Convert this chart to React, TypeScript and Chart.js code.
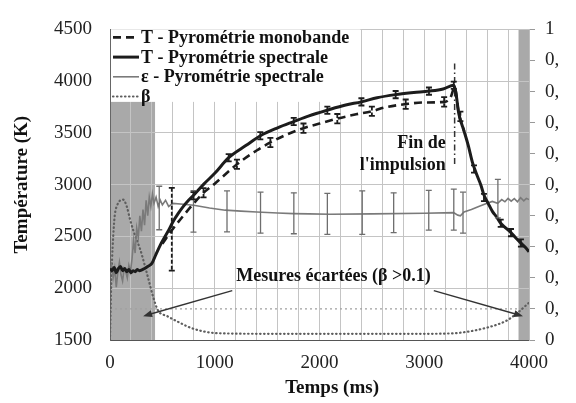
import { useEffect, useRef } from 'react';
import { Chart, registerables } from 'chart.js';

Chart.register(...registerables);

// ---------- Data ----------
// T - Pyrométrie spectrale (K)
const specT = [0, 20, 40, 60, 80, 100, 120, 140, 160, 180, 200, 220, 240, 260, 280, 300, 330, 360, 400, 440, 480, 520, 560, 600, 650, 700, 750, 800, 900, 1000, 1133, 1300, 1435, 1600, 1754, 1900, 2075, 2250, 2400, 2550, 2727, 2900, 3045, 3180, 3282, 3300, 3330, 3380, 3420, 3460, 3500, 3541, 3570, 3610, 3652, 3690, 3730, 3780, 3828, 3870, 3923, 3960, 4000];
const specTemp = [2190, 2170, 2200, 2150, 2190, 2210, 2170, 2190, 2160, 2180, 2150, 2170, 2160, 2180, 2170, 2175, 2190, 2210, 2240, 2330, 2417, 2490, 2560, 2640, 2720, 2790, 2850, 2900, 3010, 3110, 3261, 3380, 3473, 3550, 3610, 3665, 3720, 3770, 3800, 3840, 3870, 3890, 3904, 3925, 3960, 3900, 3686, 3518, 3380, 3215, 3100, 2995, 2900, 2820, 2740, 2690, 2628, 2580, 2537, 2490, 2436, 2400, 2353];

// T - Pyrométrie monobande (K)
const monoT = [500, 590, 700, 800, 893, 1000, 1212, 1400, 1531, 1700, 1847, 2000, 2170, 2350, 2500, 2632, 2823, 2983, 3190, 3250, 3290, 3330, 3380];
const monoTemp = [2430, 2560, 2700, 2820, 2922, 3010, 3197, 3330, 3408, 3490, 3546, 3590, 3638, 3680, 3710, 3748, 3778, 3794, 3800, 3840, 3940, 3686, 3518];

// ε - Pyrométrie spectrale
const epsT = [0, 15, 30, 45, 60, 75, 90, 105, 120, 135, 150, 165, 180, 195, 210, 225, 240, 255, 270, 285, 300, 315, 330, 345, 360, 375, 390, 405, 420, 440, 460, 480, 500, 530, 560, 600, 700, 800, 950, 1100, 1250, 1400, 1600, 1750, 1900, 2100, 2500, 3000, 3280, 3320, 3345, 3380, 3450, 3520, 3600, 3650, 3700, 3740, 3770, 3800, 3830, 3860, 3890, 3920, 3950, 3975, 4000];
const epsV = [0.22, 0.24, 0.2, 0.23, 0.17, 0.22, 0.25, 0.21, 0.19, 0.23, 0.22, 0.2, 0.24, 0.22, 0.26, 0.32, 0.28, 0.36, 0.33, 0.4, 0.35, 0.42, 0.37, 0.45, 0.4, 0.46, 0.43, 0.47, 0.44, 0.46, 0.43, 0.45, 0.435, 0.45, 0.43, 0.44, 0.437, 0.434, 0.425, 0.418, 0.415, 0.412, 0.409, 0.407, 0.406, 0.405, 0.406, 0.408, 0.41, 0.402, 0.4, 0.412, 0.42, 0.43, 0.44, 0.446, 0.44, 0.452, 0.445, 0.456, 0.447, 0.455, 0.445, 0.458, 0.448, 0.456, 0.452];

// β
const betaT = [0, 5, 10, 20, 30, 45, 70, 100, 125, 160, 190, 225, 258, 290, 316, 340, 364, 411, 459, 545, 670, 765, 861, 1024, 1500, 2000, 2500, 3000, 3300, 3400, 3500, 3600, 3700, 3800, 3850, 3900, 3950, 4000];
const betaV = [0, 0.08, 0.16, 0.26, 0.33, 0.4, 0.435, 0.45, 0.452, 0.43, 0.39, 0.35, 0.32, 0.29, 0.26, 0.23, 0.2, 0.14, 0.095, 0.077, 0.055, 0.04, 0.03, 0.022, 0.02, 0.02, 0.02, 0.02, 0.022, 0.026, 0.032, 0.04, 0.05, 0.065, 0.077, 0.09, 0.105, 0.12];

// β = 0.1 threshold
const thresholdT = [0, 4000];
const thresholdBeta = [0.1, 0.1];

// End of pulse marker
const pulseT = [3290, 3290];
const pulseTemp = [4170, 3180];

// Error bars
const specErrT = [797, 1133, 1435, 1754, 2075, 2400, 2727, 3045, 3282, 3475, 3570, 3730, 3828, 3923];
const specErrCenter = [2894, 3261, 3473, 3610, 3720, 3800, 3870, 3904, 3960, 3151, 2876, 2628, 2537, 2436];
const specErrHalf = [35, 35, 35, 35, 35, 35, 35, 35, 35, 35, 35, 35, 35, 35];

const monoErrT = [590, 893, 1212, 1531, 1847, 2170, 2500, 2823, 3190, 3345];
const monoErrCenter = [2570, 2922, 3197, 3408, 3546, 3638, 3710, 3778, 3800, 3660];
const monoErrHalf = [400, 45, 45, 45, 45, 45, 45, 45, 45, 45];

const epsErrT = [470, 797, 1117, 1437, 1755, 2075, 2408, 2708, 3043, 3282, 3370, 3703];
const epsErrCenter = [0.425, 0.414, 0.414, 0.41, 0.408, 0.406, 0.41, 0.41, 0.418, 0.42, 0.41, 0.455];
const epsErrHalf = [0.07, 0.067, 0.066, 0.066, 0.066, 0.066, 0.07, 0.064, 0.064, 0.066, 0.066, 0.062];

// Excluded zones (ms)
const leftBand = [0, 430];
const rightBand = [3900, 4000];

// Axis ticks
const rightTickLabels = ['0', '0,', '0,', '0,', '0,', '0,', '0,', '0,', '0,', '0,', '1'];

// Texts
const legendLabels = ['T - Pyrométrie monobande', 'T - Pyrométrie spectrale', 'ε - Pyrométrie spectrale', 'β'];
const legendDatasetIndex = [1, 0, 2, 3];
const pulseText = ['Fin de', "l'impulsion"];
const excludedText = 'Mesures écartées (β >0.1)';

const FONT = '"Liberation Serif", serif';

export default function App() {
  const canvasRef = useRef<HTMLCanvasElement | null>(null);

  useEffect(() => {
    document.body.style.margin = '0';
    const canvas = canvasRef.current;
    if (!canvas) return;
    const pts = (xs: number[], ys: number[]) => xs.map((x, i) => ({ x, y: ys[i] }));

    const bandsPlugin = {
      id: 'bands',
      beforeDraw(chart: any) {
        const { ctx, chartArea, scales } = chart;
        const x = scales.x;
        ctx.save();
        ctx.fillStyle = '#a9a9a9';
        for (const [a, b] of [leftBand, rightBand]) {
          const x1 = x.getPixelForValue(a);
          const x2 = x.getPixelForValue(b);
          ctx.fillRect(x1, chartArea.top, x2 - x1, chartArea.bottom - chartArea.top);
        }
        ctx.restore();
      },
    };

    const legendPlugin = {
      id: 'boxLegend',
      beforeDatasetsDraw(chart: any) {
        const { ctx, chartArea, scales } = chart;
        const x0 = chartArea.left + 1;
        const x1 = scales.x.getPixelForValue(2400) - 1;
        const y0 = chartArea.top;
        const y1 = scales.y.getPixelForValue(3800);
        ctx.save();
        ctx.fillStyle = '#ffffff';
        ctx.fillRect(x0, y0, x1 - x0, y1 - y0);
        legendLabels.forEach((label, i) => {
          const ds: any = chart.data.datasets[legendDatasetIndex[i]];
          const ry = y0 + 8 + i * 19.7;
          ctx.save();
          ctx.strokeStyle = ds.borderColor;
          ctx.lineWidth = ds.borderWidth;
          ctx.lineCap = ds.borderCapStyle || 'butt';
          ctx.setLineDash(ds.borderDash || []);
          ctx.beginPath();
          ctx.moveTo(x0 + 2, ry);
          ctx.lineTo(x0 + 28, ry);
          ctx.stroke();
          ctx.restore();
          ctx.fillStyle = '#111';
          ctx.font = `bold 18px ${FONT}`;
          ctx.textAlign = 'left';
          ctx.textBaseline = 'middle';
          ctx.fillText(label, x0 + 30, ry + 1);
        });
        ctx.restore();
      },
    };

    const annotationPlugin = {
      id: 'annotations',
      afterDatasetsDraw(chart: any) {
        const { ctx, scales } = chart;
        const x = scales.x;
        const drawBars = (ts: number[], cs: number[], hs: number[], axis: any, color: string, width: number, dash: number[]) => {
          ctx.save();
          ctx.strokeStyle = color;
          ctx.lineWidth = width;
          ts.forEach((t, i) => {
            const px = x.getPixelForValue(t);
            const top = axis.getPixelForValue(cs[i] + hs[i]);
            const bot = axis.getPixelForValue(cs[i] - hs[i]);
            ctx.setLineDash(dash);
            ctx.beginPath();
            ctx.moveTo(px, top);
            ctx.lineTo(px, bot);
            ctx.stroke();
            ctx.setLineDash([]);
            ctx.beginPath();
            ctx.moveTo(px - 3, top);
            ctx.lineTo(px + 3, top);
            ctx.moveTo(px - 3, bot);
            ctx.lineTo(px + 3, bot);
            ctx.stroke();
          });
          ctx.restore();
        };
        drawBars(epsErrT, epsErrCenter, epsErrHalf, scales.y1, '#6e6e6e', 1.3, []);
        drawBars(monoErrT, monoErrCenter, monoErrHalf, scales.y, '#1c1c1c', 1.8, [4, 2]);
        drawBars(specErrT, specErrCenter, specErrHalf, scales.y, '#1c1c1c', 1.8, []);

        const arrow = (t1: number, v1: number, t2: number, v2: number) => {
          const sx = x.getPixelForValue(t1), sy = scales.y.getPixelForValue(v1);
          const ex = x.getPixelForValue(t2), ey = scales.y.getPixelForValue(v2);
          const ang = Math.atan2(ey - sy, ex - sx);
          ctx.save();
          ctx.strokeStyle = '#333';
          ctx.fillStyle = '#333';
          ctx.lineWidth = 1.4;
          ctx.beginPath();
          ctx.moveTo(sx, sy);
          ctx.lineTo(ex - 6 * Math.cos(ang), ey - 6 * Math.sin(ang));
          ctx.stroke();
          ctx.beginPath();
          ctx.moveTo(ex, ey);
          ctx.lineTo(ex - 9 * Math.cos(ang) + 3.5 * Math.sin(ang), ey - 9 * Math.sin(ang) - 3.5 * Math.cos(ang));
          ctx.lineTo(ex - 9 * Math.cos(ang) - 3.5 * Math.sin(ang), ey - 9 * Math.sin(ang) + 3.5 * Math.cos(ang));
          ctx.closePath();
          ctx.fill();
          ctx.restore();
        };
        arrow(1167, 1977, 316, 1730);
        arrow(3091, 1977, 3943, 1730);

        ctx.save();
        ctx.fillStyle = '#111';
        ctx.font = `bold 18px ${FONT}`;
        ctx.textBaseline = 'middle';
        ctx.textAlign = 'right';
        ctx.fillText(pulseText[0], x.getPixelForValue(3206), scales.y.getPixelForValue(3400));
        ctx.fillText(pulseText[1], x.getPixelForValue(3206), scales.y.getPixelForValue(3190));
        ctx.textAlign = 'center';
        ctx.fillText(excludedText, x.getPixelForValue(2134), scales.y.getPixelForValue(2115));
        ctx.restore();
      },
      afterDraw(chart: any) {
        const { ctx, chartArea, scales } = chart;
        ctx.save();
        ctx.fillStyle = '#111';
        ctx.font = `bold 19px ${FONT}`;
        ctx.textAlign = 'center';
        ctx.textBaseline = 'middle';
        ctx.fillText('Temps (ms)', scales.x.getPixelForValue(2120), chartArea.bottom + 48);
        ctx.restore();
      },
    };

    const tickFont = { family: FONT, size: 19 };

    const chart = new Chart(canvas, {
      type: 'line',
      data: {
        datasets: [
          {
            label: 'T - Pyrométrie spectrale',
            data: pts(specT, specTemp),
            yAxisID: 'y',
            borderColor: '#1c1c1c',
            borderWidth: 3,
            pointRadius: 0,
            cubicInterpolationMode: 'monotone',
          },
          {
            label: 'T - Pyrométrie monobande',
            data: pts(monoT, monoTemp),
            yAxisID: 'y',
            borderColor: '#1c1c1c',
            borderWidth: 2.6,
            borderDash: [8, 5],
            pointRadius: 0,
            cubicInterpolationMode: 'monotone',
          },
          {
            label: 'ε - Pyrométrie spectrale',
            data: pts(epsT, epsV),
            yAxisID: 'y1',
            borderColor: '#7a7a7a',
            borderWidth: 1.6,
            pointRadius: 0,
            tension: 0,
          },
          {
            label: 'β',
            data: pts(betaT, betaV),
            yAxisID: 'y1',
            borderColor: '#5e5e5e',
            borderWidth: 2.2,
            borderDash: [0.5, 3.5],
            borderCapStyle: 'round',
            pointRadius: 0,
            cubicInterpolationMode: 'monotone',
          },
          {
            label: 'β = 0.1',
            data: pts(thresholdT, thresholdBeta),
            yAxisID: 'y1',
            borderColor: '#a0a0a0',
            borderWidth: 1.2,
            borderDash: [2, 3],
            pointRadius: 0,
          },
          {
            label: 'Fin de l\'impulsion',
            data: pts(pulseT, pulseTemp),
            yAxisID: 'y',
            borderColor: '#333',
            borderWidth: 1.5,
            borderDash: [6, 3, 1.5, 3],
            pointRadius: 0,
          },
        ] as any,
      },
      options: {
        animation: false,
        responsive: true,
        maintainAspectRatio: false,
        layout: { padding: { top: 13, left: 0, right: 0, bottom: 0 } },
        plugins: { legend: { display: false }, tooltip: { enabled: false } },
        scales: {
          x: {
            type: 'linear',
            min: 0,
            max: 4000,
            afterFit: (s: any) => { s.height = 63; },
            ticks: {
              stepSize: 200,
              autoSkip: false,
              maxRotation: 0,
              padding: 12,
              color: '#222',
              font: tickFont,
              callback: (v: any) => (Number(v) % 1000 === 0 ? String(v) : ''),
            },
            grid: { color: '#c4c4c4', drawTicks: false, lineWidth: 1 },
            border: { color: '#555', width: 1 },
          },
          y: {
            type: 'linear',
            position: 'left',
            min: 1500,
            max: 4500,
            afterFit: (s: any) => { s.width = 110; },
            ticks: { stepSize: 500, padding: 18, color: '#222', font: tickFont, callback: (v: any) => String(v) },
            grid: { color: '#c4c4c4', drawTicks: false, lineWidth: 1 },
            border: { color: '#666', width: 1 },
            title: {
              display: true,
              text: 'Température (K)',
              color: '#111',
              font: { family: FONT, size: 19, weight: 'bold' },
              padding: { top: 11, bottom: 0 },
            },
          },
          y1: {
            type: 'linear',
            position: 'right',
            min: 0,
            max: 1,
            afterFit: (s: any) => { s.width = 47; },
            ticks: {
              stepSize: 0.1,
              padding: 10,
              color: '#222',
              font: tickFont,
              callback: (_v: any, i: number) => rightTickLabels[i] ?? '',
            },
            grid: { drawOnChartArea: false, drawTicks: true, tickLength: 6, tickColor: '#999' },
            border: { color: '#bbb', width: 1 },
          },
        },
      } as any,
      plugins: [bandsPlugin, legendPlugin, annotationPlugin],
    });

    return () => chart.destroy();
  }, []);

  return (
    <div style={{ position: 'relative', width: 576, height: 403 }}>
      <canvas ref={canvasRef} />
    </div>
  );
}
